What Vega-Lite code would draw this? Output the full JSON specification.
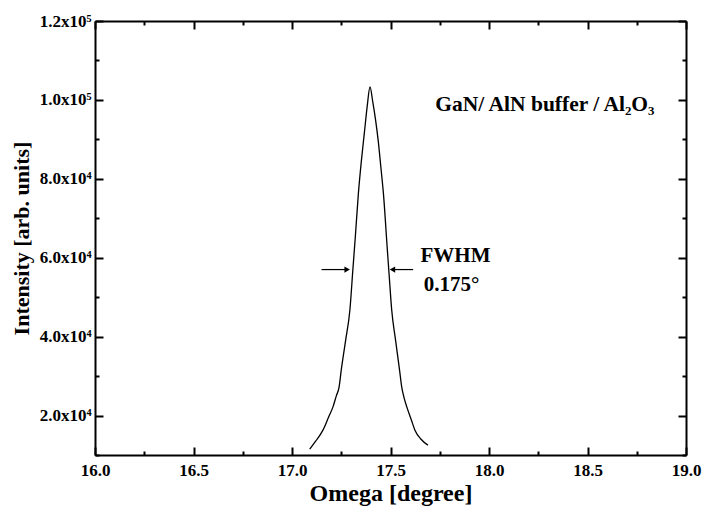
{
  "$schema": "https://vega.github.io/schema/vega-lite/v6.json",
  "autosize": "none",
  "width": 591,
  "height": 434,
  "padding": {"left": 95, "top": 21, "right": 19, "bottom": 60},
  "background": "white",
  "config": {
    "view": {"stroke": null},
    "font": "Liberation Serif",
    "axis": {
      "labelFont": "Liberation Serif", "labelFontWeight": "bold", "labelFontSize": 17, "labelColor": "black",
      "titleFont": "Liberation Serif", "titleFontWeight": "bold", "titleFontSize": 22, "titleColor": "black",
      "domainColor": "black", "domainWidth": 2, "tickColor": "black", "tickWidth": 2, "grid": false
    }
  },
  "datasets": {
    "curve": [
      {"omega": 17.09, "intensity": 11500},
      {"omega": 17.12, "intensity": 13500},
      {"omega": 17.157, "intensity": 16300},
      {"omega": 17.185, "intensity": 19500},
      {"omega": 17.208, "intensity": 22200},
      {"omega": 17.225, "intensity": 25000},
      {"omega": 17.239, "intensity": 27200},
      {"omega": 17.25, "intensity": 31500},
      {"omega": 17.272, "intensity": 39000},
      {"omega": 17.294, "intensity": 46800},
      {"omega": 17.309, "intensity": 57000},
      {"omega": 17.321, "intensity": 65000},
      {"omega": 17.337, "intensity": 76300},
      {"omega": 17.352, "intensity": 84500},
      {"omega": 17.367, "intensity": 91500},
      {"omega": 17.382, "intensity": 98500},
      {"omega": 17.396, "intensity": 103300},
      {"omega": 17.41, "intensity": 99500},
      {"omega": 17.424, "intensity": 95000},
      {"omega": 17.438, "intensity": 89500},
      {"omega": 17.451, "intensity": 83000},
      {"omega": 17.464, "intensity": 76300},
      {"omega": 17.484, "intensity": 62000},
      {"omega": 17.494, "intensity": 55000},
      {"omega": 17.506, "intensity": 46800},
      {"omega": 17.526, "intensity": 39000},
      {"omega": 17.546, "intensity": 31500},
      {"omega": 17.557, "intensity": 27200},
      {"omega": 17.569, "intensity": 24500},
      {"omega": 17.584, "intensity": 22000},
      {"omega": 17.605, "intensity": 19000},
      {"omega": 17.624, "intensity": 16300},
      {"omega": 17.655, "intensity": 14000},
      {"omega": 17.69, "intensity": 12500}
    ],
    "arrows": [
      {"tail": 17.15, "head": 17.28, "y": 57000, "dir": "right"},
      {"tail": 17.615, "head": 17.51, "y": 57000, "dir": "left"}
    ],
    "notes": [
      {"x": 18.284, "y": 98700, "label": "GaN/ AlN buffer / Al₂O₃", "size": 21.5},
      {"x": 17.83, "y": 60400, "label": "FWHM", "size": 21},
      {"x": 17.81, "y": 53100, "label": "0.175°", "size": 21}
    ]
  },
  "layer": [
    {
      "data": {"name": "curve"},
      "mark": {"type": "line", "color": "black", "strokeWidth": 1.3, "interpolate": "monotone"},
      "encoding": {
        "x": {"field": "omega", "type": "quantitative",
              "scale": {"domain": [16, 19], "nice": false, "zero": false},
              "axis": {"orient": "bottom", "title": "Omega [degree]", "values": [16, 16.5, 17, 17.5, 18, 18.5, 19],
                       "format": ".1f", "tickSize": -8, "labelPadding": 15, "titlePadding": 3, "titleFontSize": 24, "labelFlush": false}},
        "y": {"field": "intensity", "type": "quantitative",
              "scale": {"domain": [10000, 120000], "nice": false, "zero": false},
              "axis": {"orient": "left", "title": "Intensity [arb. units]", "values": [20000, 40000, 60000, 80000, 100000, 120000],
                       "labelExpr": "datum.value >= 100000 ? format(datum.value/100000, '.1f') + 'x10⁵' : format(datum.value/10000, '.1f') + 'x10⁴'",
                       "tickSize": -8, "labelPadding": 12, "titlePadding": 6}}
      }
    },
    {
      "data": {"name": "arrows"},
      "mark": {"type": "rule", "color": "black", "strokeWidth": 1.2},
      "encoding": {
        "x": {"field": "tail", "type": "quantitative",
              "axis": {"orient": "bottom", "title": null, "labels": false, "domain": false,
                       "values": [16.25, 16.75, 17.25, 17.75, 18.25, 18.75], "tickSize": -4}},
        "x2": {"field": "head"},
        "y": {"field": "y", "type": "quantitative",
              "axis": {"orient": "left", "title": null, "labels": false, "domain": false,
                       "values": [10000, 30000, 50000, 70000, 90000, 110000], "tickSize": -4}}
      }
    },
    {
      "data": {"name": "arrows"},
      "mark": {"type": "point", "filled": true, "color": "black", "size": 40, "opacity": 1},
      "encoding": {
        "x": {"field": "head", "type": "quantitative",
              "axis": {"orient": "top", "title": null, "labels": false, "domain": true,
                       "values": [16, 16.5, 17, 17.5, 18, 18.5, 19], "tickSize": -8}},
        "y": {"field": "y", "type": "quantitative",
              "axis": {"orient": "right", "title": null, "labels": false, "domain": true,
                       "values": [20000, 40000, 60000, 80000, 100000, 120000], "tickSize": -8}},
        "shape": {"field": "dir", "type": "nominal",
                  "scale": {"domain": ["right", "left"], "range": ["triangle-right", "triangle-left"]}, "legend": null}
      }
    },
    {
      "data": {"name": "notes"},
      "mark": {"type": "text", "font": "Liberation Serif", "fontWeight": "bold", "color": "black", "align": "center", "baseline": "middle"},
      "encoding": {
        "x": {"field": "x", "type": "quantitative",
              "axis": {"orient": "top", "title": null, "labels": false, "domain": false,
                       "values": [16.25, 16.75, 17.25, 17.75, 18.25, 18.75], "tickSize": -4}},
        "y": {"field": "y", "type": "quantitative",
              "axis": {"orient": "right", "title": null, "labels": false, "domain": false,
                       "values": [10000, 30000, 50000, 70000, 90000, 110000], "tickSize": -4}},
        "text": {"field": "label"},
        "size": {"field": "size", "type": "quantitative", "scale": null, "legend": null}
      }
    }
  ],
  "resolve": {"axis": {"x": "independent", "y": "independent"}}
}
